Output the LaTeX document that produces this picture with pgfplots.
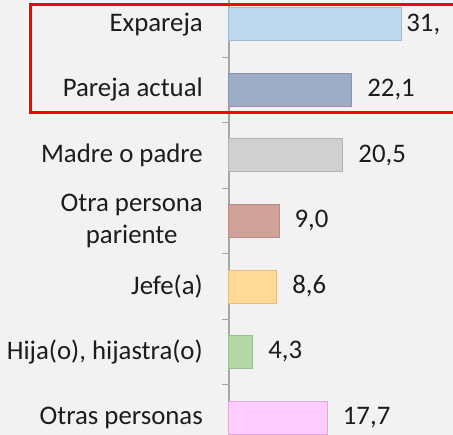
\documentclass[border=0pt]{standalone}
\usepackage{fontspec}
\setmainfont{Carlito}
\usepackage{pgfplots}
\pgfplotsset{compat=1.18}
\definecolor{bg}{HTML}{F2F2F2}
\definecolor{axisgray}{HTML}{A6A6A6}
\definecolor{txt}{HTML}{1C1C1C}
\definecolor{c1}{HTML}{BDD7EE}\definecolor{c1d}{HTML}{9FBAD6}
\definecolor{c2}{HTML}{9DADC8}\definecolor{c2d}{HTML}{8695B2}
\definecolor{c3}{HTML}{D0D0D0}\definecolor{c3d}{HTML}{B3B3B3}
\definecolor{c4}{HTML}{D0A39A}\definecolor{c4d}{HTML}{B98B82}
\definecolor{c5}{HTML}{FFD996}\definecolor{c5d}{HTML}{E3BE7C}
\definecolor{c6}{HTML}{B5D6A5}\definecolor{c6d}{HTML}{9CBE8C}
\definecolor{c7}{HTML}{FFCCFF}\definecolor{c7d}{HTML}{DDA9DD}
\begin{document}
\begin{tikzpicture}
\clip (0,0) rectangle (453pt,435pt);
\fill[bg] (0,0) rectangle (453pt,435pt);
\begin{axis}[
  at={(229pt,0pt)}, anchor=south west,
  scale only axis, width=224pt, height=435pt,
  xmin=0, xmax=40.29,
  ymin=-0.374, ymax=6.267, y dir=reverse,
  xbar, bar width=33pt, bar shift=0pt,
  axis x line=none, axis y line=left,
  axis line style={-, draw=axisgray, line width=1.4pt},
  ytick={0,...,6},
  yticklabels={Expareja, Pareja actual, Madre o padre, {Otra persona\\pariente}, Jefe(a), {Hija(o), hijastra(o)}, Otras personas},
  major tick length=0pt,
  minor ytick={-0.5,0.5,...,6.5},
  minor tick length=7pt,
  tick align=outside,
  minor tick style={draw=axisgray, line width=1.4pt},
  yticklabel style={font=\fontsize{26.8}{32}\selectfont, align=center, inner sep=0pt, xshift=-26pt, text=txt},
  point meta=x,
  /pgf/number format/assume math mode=true,
  nodes near coords={\pgfmathprintnumber[fixed,fixed zerofill,precision=1,use comma]{\pgfplotspointmeta}},
  nodes near coords style={font=\fontsize{26.8}{32}\selectfont, inner sep=0pt, anchor=west, text=txt},
  clip=false,
]
\addplot[fill=c1, draw=c1d, line width=1pt, nodes near coords={31,}, every node near coord/.append style={xshift=4pt}] coordinates {(31.1,0)};
\addplot[fill=c2, draw=c2d, line width=1pt, every node near coord/.append style={xshift=15pt}] coordinates {(22.1,1)};
\addplot[fill=c3, draw=c3d, line width=1pt, every node near coord/.append style={xshift=15pt}] coordinates {(20.5,2)};
\addplot[fill=c4, draw=c4d, line width=1pt, every node near coord/.append style={xshift=15pt}] coordinates {(9.0,3)};
\addplot[fill=c5, draw=c5d, line width=1pt, every node near coord/.append style={xshift=15pt}] coordinates {(8.6,4)};
\addplot[fill=c6, draw=c6d, line width=1pt, every node near coord/.append style={xshift=15pt}] coordinates {(4.3,5)};
\addplot[fill=c7, draw=c7d, line width=1pt, every node near coord/.append style={xshift=15pt}] coordinates {(17.7,6)};
\end{axis}
\draw[red, line width=3pt] (30pt,430.5pt) rectangle (480pt,322pt);
\end{tikzpicture}
\end{document}
